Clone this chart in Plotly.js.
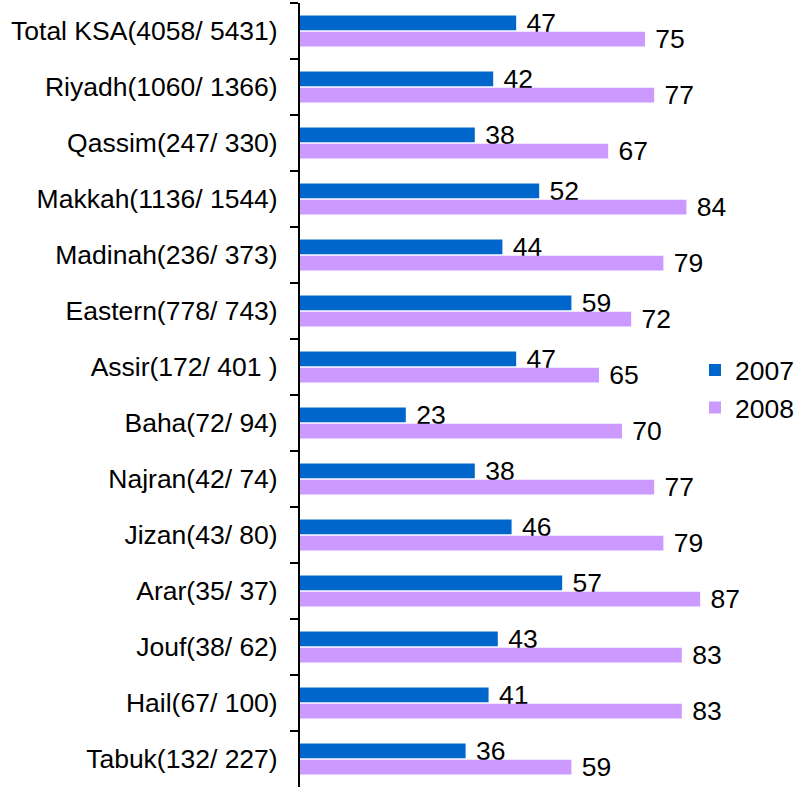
<!DOCTYPE html>
<html>
<head>
<meta charset="utf-8">
<script src="https://cdn.plot.ly/plotly-3.0.1.min.js"></script>
<style>html,body{margin:0;padding:0;background:#fff}#chart{width:800px;height:789px}</style>
</head>
<body>
<div id="chart"></div>
<script>
const categories = [
  "Total KSA(4058/ 5431)",
  "Riyadh(1060/ 1366)",
  "Qassim(247/ 330)",
  "Makkah(1136/ 1544)",
  "Madinah(236/ 373)",
  "Eastern(778/ 743)",
  "Assir(172/ 401\u00a0)",
  "Baha(72/ 94)",
  "Najran(42/ 74)",
  "Jizan(43/ 80)",
  "Arar(35/ 37)",
  "Jouf(38/ 62)",
  "Hail(67/ 100)",
  "Tabuk(132/ 227)"
];
const values2007 = [47, 42, 38, 52, 44, 59, 47, 23, 38, 46, 57, 43, 41, 36];
const values2008 = [75, 77, 67, 84, 79, 72, 65, 70, 77, 79, 87, 83, 83, 59];
const seriesNames = ["2007", "2008"];

const FONT = "Liberation Sans, Arial, Helvetica, sans-serif";
const FS = 26.5;

const traces = [
  {
    type: "bar", orientation: "h", name: seriesNames[0],
    y: categories, x: values2007,
    marker: {color: "#0066CC"},
    text: values2007.map(v => "\u00a0" + v), textposition: "outside",
    textfont: {family: FONT, size: FS, color: "#000"},
    cliponaxis: false, constraintext: "none", hoverinfo: "x"
  },
  {
    type: "bar", orientation: "h", name: seriesNames[1],
    y: categories, x: values2008,
    marker: {color: "#CC99FF"},
    text: values2008.map(v => "\u00a0" + v), textposition: "outside",
    textfont: {family: FONT, size: FS, color: "#000"},
    cliponaxis: false, constraintext: "none", hoverinfo: "x"
  }
];

const layout = {
  width: 800, height: 789,
  margin: {l: 300, r: 0, t: 3, b: 2, pad: 0},
  paper_bgcolor: "#fff", plot_bgcolor: "#fff",
  font: {family: FONT, size: FS, color: "#000"},
  barmode: "group", bargap: 0.42, bargroupgap: 0.1,
  showlegend: true,
  legend: {x: 0.79, y: 0.508, xanchor: "left", yanchor: "middle",
           font: {family: FONT, size: FS, color: "#000"},
           bgcolor: "rgba(0,0,0,0)", traceorder: "normal"},
  xaxis: {range: [0, 108.7], showgrid: false, zeroline: false,
          showline: false, showticklabels: false, ticks: "", fixedrange: true},
  yaxis: {type: "category", autorange: "reversed",
          showline: true, linecolor: "#000", linewidth: 2,
          ticks: "outside", tickson: "boundaries", ticklen: 8, tickwidth: 2, tickcolor: "#000",
          showgrid: false, zeroline: false, ticklabelstandoff: 15,
          tickfont: {family: FONT, size: FS, color: "#000"}}
};

Plotly.newPlot("chart", traces, layout, {displayModeBar: false, staticPlot: true});
</script>
</body>
</html>
